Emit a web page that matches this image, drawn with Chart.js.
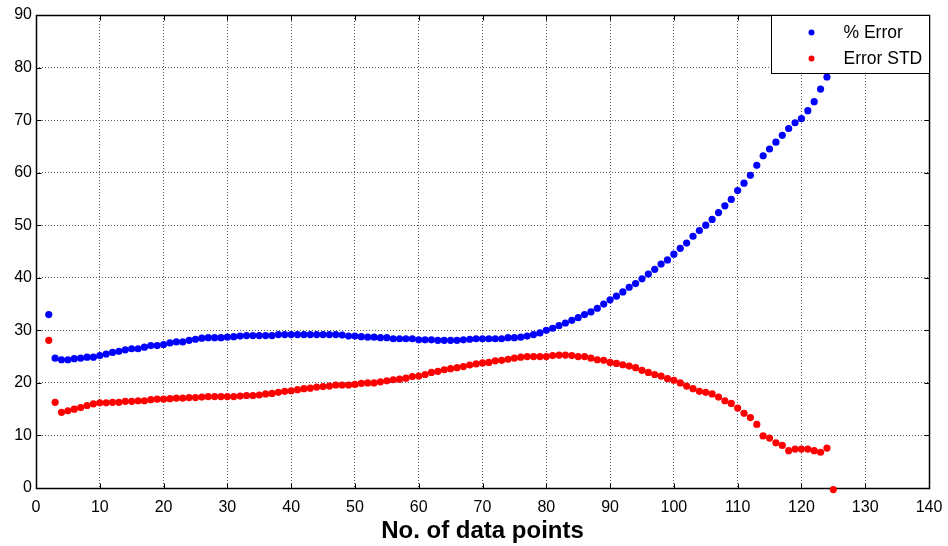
<!DOCTYPE html>
<html>
<head>
<meta charset="utf-8">
<script src="https://cdn.jsdelivr.net/npm/chart.js@4.4.1/dist/chart.umd.min.js"></script>
<style>
  html, body { margin: 0; padding: 0; background: #fff; }
  #wrap { width: 948px; height: 546px; }
</style>
</head>
<body>
<div id="wrap"><canvas id="errChart" width="948" height="546"></canvas></div>
<script>
// x positions start at 2 data points, one step per point
const firstPoint = 2;

const pctError = [
  33.0, 24.7, 24.4, 24.4, 24.6, 24.7, 24.9, 24.9, 25.2, 25.5,
  25.8, 26.0, 26.3, 26.5, 26.5, 26.8, 27.1, 27.1, 27.3, 27.6,
  27.8, 27.8, 28.1, 28.3, 28.5, 28.6, 28.6, 28.6, 28.7, 28.8,
  28.9, 29.0, 29.0, 29.0, 29.0, 29.0, 29.2, 29.2, 29.2, 29.2,
  29.2, 29.2, 29.2, 29.2, 29.2, 29.2, 29.1, 28.9, 28.9, 28.8,
  28.7, 28.7, 28.6, 28.6, 28.4, 28.4, 28.4, 28.4, 28.2, 28.2,
  28.2, 28.1, 28.1, 28.1, 28.1, 28.2, 28.3, 28.4, 28.4, 28.4,
  28.4, 28.4, 28.6, 28.6, 28.7, 28.9, 29.2, 29.5, 30.0, 30.4,
  30.9, 31.4, 31.9, 32.4, 33.0, 33.5, 34.2, 35.0, 35.8, 36.5,
  37.3, 38.2, 38.9, 39.8, 40.7, 41.6, 42.6, 43.4, 44.5, 45.6,
  46.6, 47.9, 49.0, 50.0, 51.1, 52.4, 53.7, 54.9, 56.6, 58.0,
  59.5, 61.4, 63.2, 64.5, 65.8, 67.1, 68.4, 69.5, 70.3, 71.8,
  73.5, 75.9, 78.2
];

const errorStd = [
  28.1, 16.3, 14.4, 14.7, 15.0, 15.3, 15.7, 16.0, 16.2, 16.2,
  16.3, 16.3, 16.5, 16.5, 16.6, 16.6, 16.8, 16.9, 16.9, 17.0,
  17.1, 17.1, 17.2, 17.2, 17.3, 17.4, 17.4, 17.4, 17.4, 17.4,
  17.5, 17.6, 17.6, 17.7, 17.9, 18.0, 18.2, 18.4, 18.5, 18.7,
  18.9, 19.0, 19.2, 19.3, 19.4, 19.6, 19.6, 19.6, 19.7, 19.9,
  20.0, 20.0, 20.2, 20.4, 20.6, 20.7, 20.9, 21.2, 21.3, 21.6,
  22.0, 22.2, 22.5, 22.7, 22.9, 23.1, 23.4, 23.6, 23.8, 23.9,
  24.2, 24.3, 24.5, 24.7, 24.9, 25.0, 25.0, 25.0, 25.0, 25.2,
  25.3, 25.3, 25.2, 25.0, 25.0, 24.7, 24.4, 24.3, 23.9, 23.7,
  23.45, 23.2, 22.9, 22.4, 22.0, 21.6, 21.3, 20.8, 20.5, 20.0,
  19.4, 18.9, 18.4, 18.2, 17.9, 17.3, 16.6, 16.1, 15.2, 14.2,
  13.4, 12.1, 9.9, 9.5, 8.6, 8.1, 7.1, 7.4, 7.4, 7.4,
  7.1, 6.8, 7.6, -0.3
];

const seriesNames = ["% Error", "Error STD"];
const seriesColors = ["#0000ff", "#ff0000"];

const xTicks = [0, 10, 20, 30, 40, 50, 60, 70, 80, 90, 100, 110, 120, 130, 140];
const yTicks = [0, 10, 20, 30, 40, 50, 60, 70, 80, 90];

const FONT = "'Liberation Sans', Arial, sans-serif";

function toPoints(values) {
  return values.map((v, i) => ({ x: firstPoint + i, y: v }));
}

// MATLAB style box with inward ticks
const boxPlugin = {
  id: "box",
  beforeDatasetsDraw(chart) {
    const { ctx, chartArea: a, scales } = chart;
    const L = Math.round(a.left) + 0.5, R = Math.round(a.right) + 0.5;
    const T = Math.round(a.top) + 0.5, B = Math.round(a.bottom) + 0.5;
    ctx.save();
    ctx.strokeStyle = "#000";
    ctx.lineWidth = 1;
    ctx.beginPath();
    xTicks.forEach((t) => {
      const px = Math.round(scales.x.getPixelForValue(t)) + 0.5;
      ctx.moveTo(px, B); ctx.lineTo(px, B - 5);
      ctx.moveTo(px, T); ctx.lineTo(px, T + 5);
    });
    yTicks.forEach((t) => {
      const py = Math.round(scales.y.getPixelForValue(t)) + 0.5;
      ctx.moveTo(L, py); ctx.lineTo(L + 5, py);
      ctx.moveTo(R, py); ctx.lineTo(R - 5, py);
    });
    ctx.stroke();
    ctx.lineWidth = 1.5;
    ctx.strokeRect(L, T, R - L, B - T);
    ctx.restore();
  },
  afterDraw(chart) {
    const { ctx, chartArea: a } = chart;
    const R = Math.round(a.right) + 0.5;
    const T = Math.round(a.top) + 0.5;
    const w = 158, h = 58;
    ctx.save();
    ctx.fillStyle = "#fff";
    ctx.fillRect(R - w, T, w, h);
    ctx.strokeStyle = "#000";
    ctx.lineWidth = 1;
    ctx.strokeRect(R - w, T, w, h);
    ctx.font = "17.5px " + FONT;
    ctx.textBaseline = "middle";
    ctx.textAlign = "left";
    chart.data.datasets.forEach((ds, i) => {
      const cy = T + 17 + i * 26;
      ctx.fillStyle = ds.backgroundColor;
      ctx.beginPath();
      ctx.arc(R - w + 40, cy, 3, 0, Math.PI * 2);
      ctx.fill();
      ctx.fillStyle = "#000";
      ctx.fillText(ds.label, R - w + 72, cy + 1);
    });
    ctx.restore();
  }
};

new Chart(document.getElementById("errChart"), {
  type: "scatter",
  data: {
    datasets: [
      {
        label: seriesNames[0],
        data: toPoints(pctError),
        backgroundColor: seriesColors[0],
        borderWidth: 0,
        pointRadius: 3.6,
        clip: false,
      },
      {
        label: seriesNames[1],
        data: toPoints(errorStd),
        backgroundColor: seriesColors[1],
        borderWidth: 0,
        pointRadius: 3.6,
        clip: false,
      },
    ],
  },
  options: {
    responsive: false,
    animation: false,
    layout: { padding: { top: 15, right: 19, left: 0, bottom: 0 } },
    plugins: {
      legend: { display: false },
      tooltip: { enabled: false },
    },
    scales: {
      x: {
        type: "linear",
        min: 0,
        max: 140,
        afterBuildTicks: (s) => { s.ticks = xTicks.map((v) => ({ value: v })); },
        afterFit: (s) => { s.height = 58; s.paddingLeft = 0; s.paddingRight = 0; },
        ticks: { color: "#000", padding: 10, font: { family: FONT, size: 16 } },
        grid: { color: "#5a5a5a", drawTicks: false },
        border: { display: false, dash: [1, 2] },
        title: {
          display: true,
          text: "No. of data points",
          color: "#000",
          font: { family: FONT, size: 24, weight: "bold" },
          padding: { top: 0, bottom: 0 },
        },
      },
      y: {
        type: "linear",
        min: 0,
        max: 90,
        afterBuildTicks: (s) => { s.ticks = yTicks.map((v) => ({ value: v })); },
        afterFit: (s) => { s.width = 36; s.paddingTop = 0; s.paddingBottom = 0; },
        ticks: { color: "#000", padding: 4, font: { family: FONT, size: 16 } },
        grid: { color: "#5a5a5a", drawTicks: false },
        border: { display: false, dash: [1, 2] },
      },
    },
  },
  plugins: [boxPlugin],
});
</script>
</body>
</html>
